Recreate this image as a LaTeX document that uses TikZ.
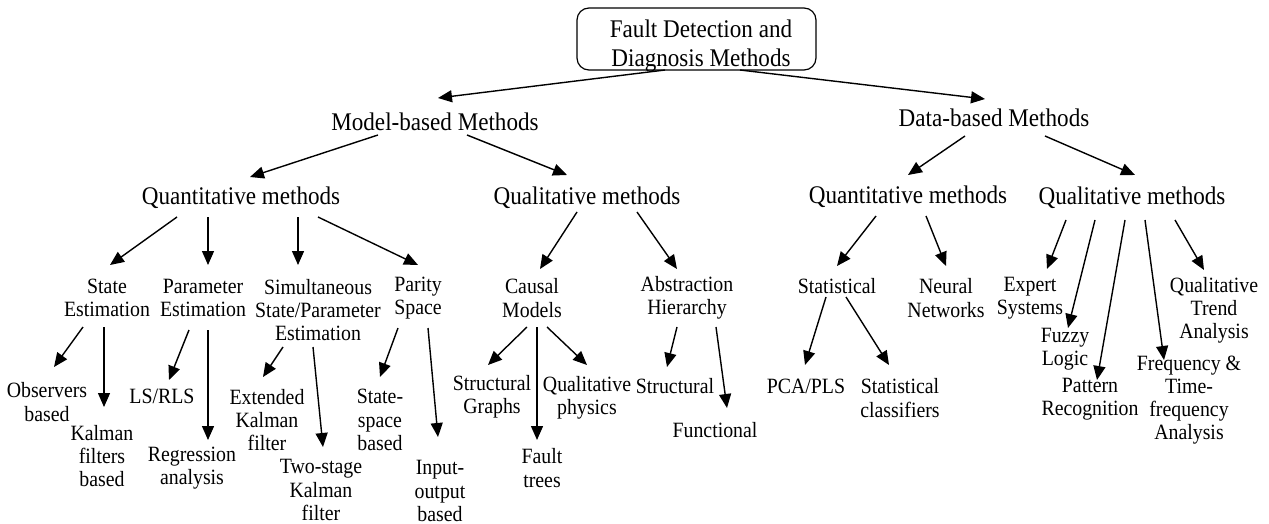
\documentclass[tikz,border=0pt]{standalone}
\usepackage{fontspec}
\setmainfont{Liberation Serif}[FakeStretch=0.91]
\usetikzlibrary{arrows.meta,calc}
\tikzset{
  big/.style={font=\fontsize{12.7}{14.8}\selectfont, align=center, inner sep=0pt},
  small/.style={font=\fontsize{10.9}{11.6}\selectfont, align=center, inner sep=0pt},
  arr/.style={-{Triangle[length=7pt,width=6pt]}, line width=0.7pt}
}
\begin{document}
\begin{tikzpicture}[x=0.5pt, y=-0.5pt]
  \useasboundingbox (0,0) rectangle (1269,524);
  % top levels
  \node[big] (root) at (701,46) {Fault Detection and\\Diagnosis Methods};
  \draw[line width=0.6pt, rounded corners=6pt]
    ($(root)+(-124,-38)$) rectangle ($(root)+(115,24)$);
  \node[big] (model) at (435,122) {Model-based Methods};
  \node[big] (data) at (994,118) {Data-based Methods};
  \node[big] (mqn) at (241,198) {Quantitative methods};
  \node[big] (mql) at (587,198) {Qualitative methods};
  \node[big] (dqn) at (908,197) {Quantitative methods};
  \node[big] (dql) at (1132,198) {Qualitative methods};
  % model-based, quantitative
  \node[small] (se) at (107,298) {State\\Estimation};
  \node[small] (pe) at (203,298) {Parameter\\Estimation};
  \node[small] (sp) at (318,310) {Simultaneous\\State/Parameter\\Estimation};
  \node[small] (ps) at (418,298) {Parity\\Space};
  \node[small] (ob) at (47,402) {Observers\\based};
  \node[small] (kf) at (102,456) {Kalman\\filters\\based};
  \node[small] (ls) at (162,396) {LS/RLS};
  \node[small] (ra) at (192,468) {Regression\\analysis};
  \node[small] (ek) at (267,420) {Extended\\Kalman\\filter};
  \node[small] (tk) at (321,490) {Two-stage\\Kalman\\filter};
  \node[small] (ss) at (380,420) {State-\\space\\based};
  \node[small] (io) at (440,491) {Input-\\output\\based};
  % model-based, qualitative
  \node[small] (cm) at (532,298) {Causal\\Models};
  \node[small] (ah) at (687,298) {Abstraction\\Hierarchy};
  \node[small] (sg) at (492,397) {Structural\\Graphs};
  \node[small] (fault) at (542,468) {Fault\\trees};
  \node[small] (qp) at (587,398) {Qualitative\\physics};
  \node[small] (str) at (675,386) {Structural};
  \node[small] (fun) at (715,430) {Functional};
  % data-based
  \node[small] (stat) at (837,286) {Statistical};
  \node[small] (nn) at (946,298) {Neural\\Networks};
  \node[small] (pca) at (806,386) {PCA/PLS};
  \node[small] (sc) at (900,398) {Statistical\\classifiers};
  \node[small] (es) at (1030,298) {Expert\\Systems};
  \node[small] (fl) at (1065,349) {Fuzzy\\Logic};
  \node[small] (pr) at (1090,399) {Pattern\\Recognition};
  \node[small] (ft) at (1189,400) {Frequency \&\\Time-\\frequency\\Analysis};
  \node[small] (qta) at (1214,310) {Qualitative\\Trend\\Analysis};
  % arrows
  \draw[arr] ($(root)+(-36,24)$) -- ($(model)+(3,-24)$);
  \draw[arr] ($(root)+(39,24)$) -- ($(data)+(-9,-19)$);
  \draw[arr] ($(model)+(-57,13)$) -- ($(mqn)+(9,-21)$);
  \draw[arr] ($(model)+(32,13)$) -- ($(mql)+(-20,-23)$);
  \draw[arr] ($(data)+(-29,18)$) -- ($(dqn)+(0,-22)$);
  \draw[arr] ($(data)+(51,18)$) -- ($(dql)+(3,-23)$);
  \draw[arr] ($(mqn)+(-64,19)$) -- ($(se)+(3,-33)$);
  \draw[arr] ($(mqn)+(-33,19)$) -- ($(pe)+(5,-33)$);
  \draw[arr] ($(mqn)+(57,19)$) -- ($(sp)+(-20,-45)$);
  \draw[arr] ($(mqn)+(77,19)$) -- ($(ps)+(0,-33)$);
  \draw[arr] ($(mql)+(-10,14)$) -- ($(cm)+(8,-29)$);
  \draw[arr] ($(mql)+(50,14)$) -- ($(ah)+(-10,-29)$);
  \draw[arr] ($(dqn)+(-32,19)$) -- ($(stat)+(0,-20)$);
  \draw[arr] ($(dqn)+(18,19)$) -- ($(nn)+(0,-32)$);
  \draw[arr] ($(dql)+(-66,22)$) -- ($(es)+(17,-29)$);
  \draw[arr] ($(dql)+(-37,22)$) -- ($(fl)+(3,-21)$);
  \draw[arr] ($(dql)+(-7,22)$) -- ($(pr)+(7,-19)$);
  \draw[arr] ($(dql)+(13,22)$) -- ($(ft)+(-25,-40)$);
  \draw[arr] ($(dql)+(43,22)$) -- ($(qta)+(-10,-40)$);
  \draw[arr] ($(se)+(-24,29)$) -- ($(ob)+(7,-35)$);
  \draw[arr] ($(se)+(-3,29)$) -- ($(kf)+(2,-49)$);
  \draw[arr] ($(pe)+(-14,32)$) -- ($(ls)+(7,-16)$);
  \draw[arr] ($(pe)+(5,32)$) -- ($(ra)+(16,-28)$);
  \draw[arr] ($(sp)+(-35,37)$) -- ($(ek)+(-4,-43)$);
  \draw[arr] ($(sp)+(-5,37)$) -- ($(tk)+(2,-43)$);
  \draw[arr] ($(ps)+(-20,30)$) -- ($(ss)+(0,-43)$);
  \draw[arr] ($(ps)+(10,30)$) -- ($(io)+(-2,-54)$);
  \draw[arr] ($(cm)+(-5,29)$) -- ($(sg)+(-4,-32)$);
  \draw[arr] ($(cm)+(5,29)$) -- ($(fault)+(-5,-28)$);
  \draw[arr] ($(cm)+(15,29)$) -- ($(qp)+(0,-33)$);
  \draw[arr] ($(ah)+(-10,29)$) -- ($(str)+(-8,-19)$);
  \draw[arr] ($(ah)+(29,29)$) -- ($(fun)+(12,-22)$);
  \draw[arr] ($(stat)+(-11,11)$) -- ($(pca)+(-1,-21)$);
  \draw[arr] ($(stat)+(9,11)$) -- ($(sc)+(-11,-33)$);
\end{tikzpicture}
\end{document}
